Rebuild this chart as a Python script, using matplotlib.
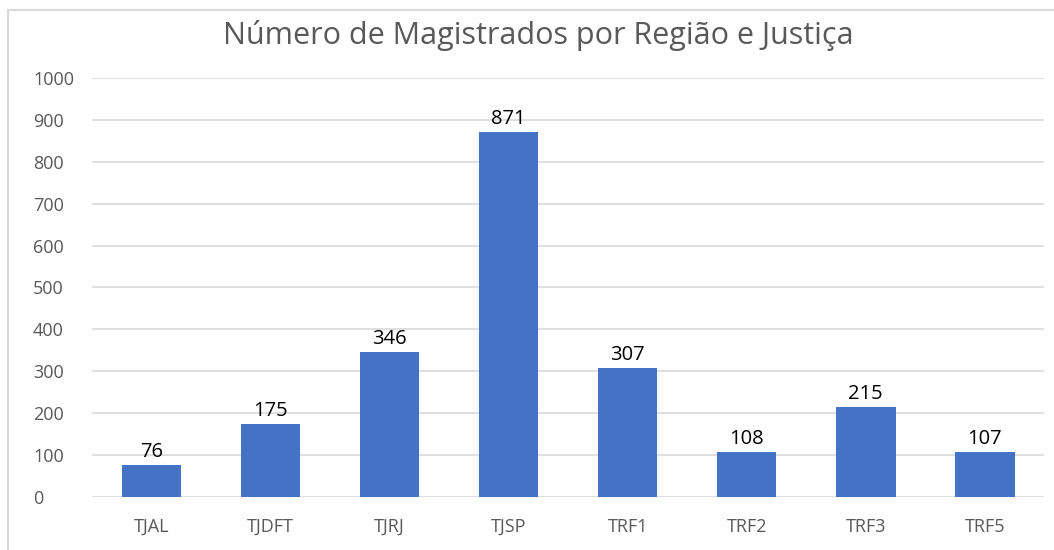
import matplotlib.pyplot as plt
from matplotlib.patches import Rectangle

# dados do gráfico
regioes = ['TJAL', 'TJDFT', 'TJRJ', 'TJSP', 'TRF1', 'TRF2', 'TRF3', 'TRF5']
magistrados = [76, 175, 346, 871, 307, 108, 215, 107]
y_ticks = [0, 100, 200, 300, 400, 500, 600, 700, 800, 900, 1000]

plt.rcParams['font.family'] = ['Open Sans', 'DejaVu Sans']

fig = plt.figure(figsize=(10.54, 5.5), dpi=100)
ax = fig.add_axes([0.0873, 0.0964, 0.9035, 0.7618])

x = range(len(regioes))
bars = ax.bar(x, magistrados, width=0.5, color='#4472c4', zorder=3)

for b, v in zip(bars, magistrados):
    ax.text(b.get_x() + b.get_width() / 2, v + 7, str(v), ha='center', va='bottom',
            fontsize=14.5, color='black')

ax.set_xlim(-0.5, len(regioes) - 0.5)
ax.set_ylim(0, 1000)
ax.set_yticks(y_ticks)
ax.set_xticks(list(x))
ax.set_xticklabels(regioes)
ax.grid(axis='y', color='#d9d9d9', linewidth=1.2, zorder=0)
ax.tick_params(axis='both', length=0, labelsize=13, colors='#595959')
ax.tick_params(axis='x', pad=15)
ax.tick_params(axis='y', pad=42.5)
for lbl in ax.get_yticklabels():
    lbl.set_horizontalalignment('left')
for s in ax.spines.values():
    s.set_visible(False)

fig.text(0.511, 0.935, 'Número de Magistrados por Região e Justiça', ha='center', va='center',
         fontsize=22, color='#595959')

# moldura do gráfico
fig.patches.append(Rectangle((8 / 1054, -0.1), 1.2, 1 - 10 / 550 + 0.1, transform=fig.transFigure,
                             fill=False, edgecolor='#d9d9d9', linewidth=1.5))

fig.savefig('out.png', dpi=100)
